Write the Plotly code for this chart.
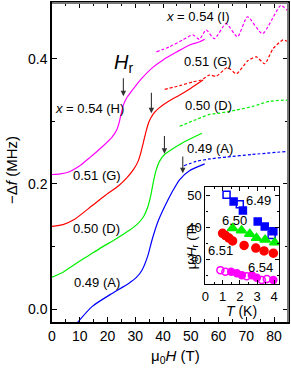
import plotly.graph_objects as go

# ---------------- main panel data (mu0H in T, -delta f in MHz) ----------------
H_054H = [0, 3, 6, 10, 13.6, 18, 21.5, 23.3, 24.3, 25.0, 25.8, 27.0, 28.8, 32.4, 36.0, 40.0, 45.0, 49.6, 53.2, 55.0]
F_054H = [0.215, 0.216, 0.219, 0.229, 0.242, 0.259, 0.274, 0.286, 0.300, 0.314, 0.327, 0.338, 0.349, 0.369, 0.385, 0.398, 0.411, 0.422, 0.427, 0.431]

H_054I = [37.6, 42.3, 47.1, 50.7, 53.1, 55.5, 58.5, 62.7, 66.8, 70.4, 75.8, 82.4, 84.8]
F_054I = [0.411, 0.419, 0.430, 0.438, 0.431, 0.446, 0.432, 0.456, 0.435, 0.467, 0.440, 0.485, 0.477]

H_051G = [0, 4, 8, 14.4, 19, 24.0, 27.0, 29.5, 31.0, 32.0, 33.0, 34.0, 35.0, 36.5, 38.5, 42.0, 46.0, 50.0, 54.4]
F_051G = [0.132, 0.135, 0.143, 0.165, 0.181, 0.197, 0.210, 0.224, 0.236, 0.250, 0.268, 0.286, 0.300, 0.312, 0.321, 0.332, 0.342, 0.353, 0.366]

H_051Gd = [40.6, 46.0, 50.8, 53.8, 56.8, 59.2, 63.2, 66.4, 70.6, 73.6, 76.6, 79.6, 83.2, 84.6]
F_051Gd = [0.351, 0.357, 0.363, 0.366, 0.374, 0.372, 0.386, 0.376, 0.397, 0.403, 0.392, 0.416, 0.430, 0.428]

H_050D = [0, 4, 8, 13, 18.0, 23, 27.6, 31.0, 33.0, 34.5, 35.5, 36.5, 37.5, 38.7, 40.5, 43.5, 48.0, 54.0]
F_050D = [0.051, 0.059, 0.071, 0.085, 0.099, 0.112, 0.125, 0.137, 0.148, 0.163, 0.180, 0.203, 0.222, 0.236, 0.247, 0.256, 0.268, 0.281]

H_050Dd = [46.0, 52.0, 56.8, 60.4, 66.4, 72.4, 78.4, 84.8]
F_050Dd = [0.292, 0.303, 0.311, 0.313, 0.318, 0.324, 0.332, 0.334]

H_049A = [8.5, 14.4, 21.6, 27.6, 30.5, 32.4, 34.5, 36.0, 38.0, 40.5, 43.5, 46.0, 49.5, 55.0]
F_049A = [-0.025, 0.004, 0.025, 0.041, 0.051, 0.062, 0.085, 0.110, 0.138, 0.163, 0.189, 0.207, 0.221, 0.232]

H_049Ad = [47.5, 52.0, 57.0, 63.0, 72.0, 84.8]
F_049Ad = [0.229, 0.236, 0.240, 0.243, 0.247, 0.252]

# arrows marking H_r: (H, tip, tail)
ARROW_H = [25.7, 35.8, 40.5, 47.1]
ARROW_TIP = [0.340, 0.313, 0.248, 0.217]
ARROW_TAIL = [0.371, 0.348, 0.279, 0.246]

# ---------------- inset data (T in K, mu0 Hr in T) ----------------
T_649 = [1.64, 2.18, 3.04, 3.45, 3.95]
Hr_649 = [48.2, 45.4, 42.0, 40.4, 38.9]
T_649o = [1.23, 2.0, 3.85]
Hr_649o = [50.3, 47.4, 37.8]

T_650 = [1.58, 2.1, 2.58, 2.97, 3.47, 4.03]
Hr_650 = [39.9, 39.2, 38.1, 36.8, 36.3, 35.4]

T_651 = [1.0, 1.17, 1.37, 1.58, 2.25, 2.93, 3.41, 3.95]
Hr_651 = [38.3, 37.6, 36.8, 35.9, 34.5, 33.7, 32.8, 32.1]

T_654 = [0.87, 1.16, 2.4, 3.28, 3.57]
Hr_654 = [26.8, 26.3, 24.9, 23.7, 24.0]
T_654f = [1.5, 1.83, 2.12, 2.7, 2.99, 3.95]
Hr_654f = [26.3, 25.8, 25.2, 25.2, 24.4, 23.7]

MAG, RED, GRN, BLU = "#ff00ff", "#ff0000", "#00ee00", "#0000ff"
FONT = "Liberation Sans, Arial, sans-serif"
DASH = "3px,2px"

fig = go.Figure()

def line(x, y, color, dash=None):
    fig.add_trace(go.Scatter(x=x, y=y, mode="lines",
                             line=dict(color=color, width=1.2, shape="spline", smoothing=0.6,
                                       dash=dash if dash else "solid"),
                             showlegend=False, hoverinfo="skip"))

line(H_054H, F_054H, MAG)
line(H_054I, F_054I, MAG, DASH)
line(H_051G, F_051G, RED)
line(H_051Gd, F_051Gd, RED, DASH)
line(H_050D, F_050D, GRN)
line(H_050Dd, F_050Dd, GRN, DASH)
line(H_049A, F_049A, BLU)
line(H_049Ad, F_049Ad, BLU, DASH)

def pts(x, y, color, symbol, size=7):
    fig.add_trace(go.Scatter(x=x, y=y, mode="markers", xaxis="x2", yaxis="y2",
                             marker=dict(color=color, symbol=symbol, size=size,
                                         line=dict(color=color, width=1.5)),
                             showlegend=False, hoverinfo="skip"))

pts(T_649, Hr_649, BLU, "square", 7)
pts(T_649o, Hr_649o, BLU, "square-open", 7)
pts(T_650, Hr_650, GRN, "triangle-up", 9)
pts(T_651, Hr_651, RED, "circle", 8)
pts(T_654, Hr_654, MAG, "circle-open", 7)
pts(T_654f, Hr_654f, MAG, "circle", 7)

ann = []
def txt(x, y, s, size=13, xanchor="center", ref=("x", "y"), angle=0):
    ann.append(dict(x=x, y=y, text=s, showarrow=False, xref=ref[0], yref=ref[1],
                    xanchor=xanchor, yanchor="middle", textangle=angle,
                    font=dict(family=FONT, size=size, color="black")))

txt(0.3, 0.320, "<i>x</i> = 0.54 (H)", xanchor="left")
txt(16.1, 0.213, "0.51 (G)")
txt(16.1, 0.128, "0.50 (D)")
txt(16.1, 0.043, "0.49 (A)")
txt(52.7, 0.467, "<i>x</i> = 0.54 (I)")
txt(56.3, 0.395, "0.51 (G)")
txt(56.3, 0.325, "0.50 (D)")
txt(56.8, 0.256, "0.49 (A)")
txt(25.6, 0.392, "<i>H</i><sub>r</sub>", size=20)

for h, tip, tail in zip(ARROW_H, ARROW_TIP, ARROW_TAIL):
    ann.append(dict(x=h, y=tip, ax=h, ay=tail, xref="x", yref="y", axref="x", ayref="y",
                    showarrow=True, arrowhead=2, arrowsize=1, arrowwidth=1.1,
                    arrowcolor="#333333", text=""))

txt(3.07, 48.5, "6.49", ref=("x2", "y2"))
txt(1.70, 42.3, "6.50", ref=("x2", "y2"))
txt(0.87, 33.0, "6.51", ref=("x2", "y2"))
txt(3.18, 27.6, "6.54", ref=("x2", "y2"))

txt(0.523, -0.109, "μ<sub>0</sub><i>H</i> (T)", size=15, ref=("paper", "paper"))
txt(-0.169, 0.477, "−Δ<i>f</i> (MHz)", size=15, ref=("paper", "paper"), angle=-90)
txt(0.802, 0.033, "<i>T</i> (K)", size=14, ref=("paper", "paper"))
txt(0.593, 0.237, "μ<sub>0</sub><i>H</i><sub>r</sub> (T)", size=13, ref=("paper", "paper"), angle=-90)

axis_common = dict(showline=True, linecolor="black", linewidth=1.5, mirror="allticks",
                   ticks="inside", tickcolor="black", tickwidth=1, showgrid=False, zeroline=False,
                   tickfont=dict(family=FONT, size=14, color="black"))

fig.update_layout(
    width=291, height=370,
    margin=dict(l=52, r=2, t=1, b=48),
    paper_bgcolor="white", plot_bgcolor="white",
    xaxis=dict(range=[0, 85], dtick=10, tick0=0, ticklen=5, domain=[0, 1],
               minor=dict(dtick=5, ticks="inside", ticklen=3, tickcolor="black"),
               **axis_common),
    yaxis=dict(range=[-0.0206, 0.489], dtick=0.2, tick0=0, tickformat=".1f", ticklen=5, domain=[0, 1],
               minor=dict(dtick=0.1, ticks="inside", ticklen=3, tickcolor="black"),
               **axis_common),
    xaxis2=dict(range=[0, 4.28], dtick=1, tick0=0, ticklen=4, domain=[0.650, 0.962], anchor="y2",
                minor=dict(dtick=0.5, ticks="inside", ticklen=2, tickcolor="black"),
                **{**axis_common, "tickfont": dict(family=FONT, size=13, color="black"), "linewidth": 1.2}),
    yaxis2=dict(range=[22.4, 52.8], dtick=10, tick0=0, ticklen=4, domain=[0.1184, 0.4237], anchor="x2",
                minor=dict(dtick=5, ticks="inside", ticklen=2, tickcolor="black"),
                **{**axis_common, "tickfont": dict(family=FONT, size=13, color="black"), "linewidth": 1.2}),
    annotations=ann,
    shapes=[
        dict(type="line", xref="paper", yref="paper", x0=0, x1=1, y0=1, y1=1,
             line=dict(color="#777777", width=2), layer="above"),
        dict(type="line", xref="paper", yref="paper", x0=1, x1=1, y0=0, y1=1,
             line=dict(color="#777777", width=2), layer="above"),
    ],
    showlegend=False,
)

fig.write_html("out.html", config={"displayModeBar": False},
               post_script="document.body.style.margin='0';document.body.style.padding='0';")
